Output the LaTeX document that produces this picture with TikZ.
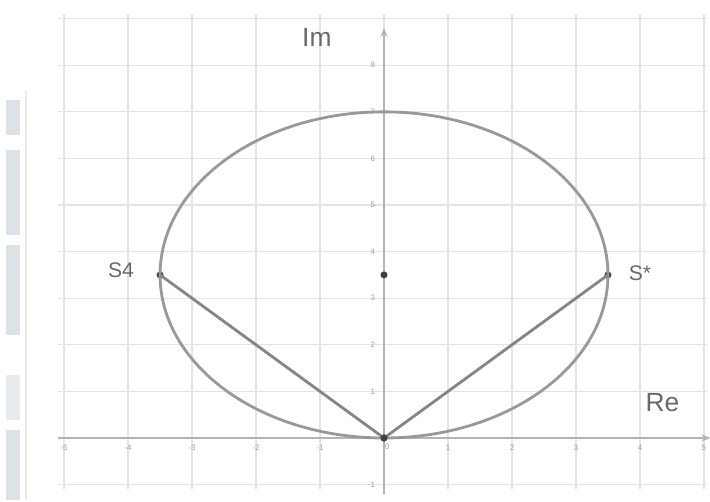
\documentclass[tikz,border=0pt]{standalone}
\usepackage{fontspec}
\setmainfont{Liberation Sans}
\usetikzlibrary{arrows.meta}
\definecolor{gridc}{HTML}{E4E4E4}
\definecolor{axisc}{HTML}{B4B4B4}
\definecolor{curvec}{HTML}{999999}
\definecolor{chordc}{HTML}{858585}
\definecolor{labc}{HTML}{686868}
\definecolor{tickc}{HTML}{A0A0A0}
\definecolor{sidec}{HTML}{DDE2E8}
\begin{document}
\begin{tikzpicture}[x=0.02cm,y=-0.02cm,
  gridline/.style={draw=gridc,line width=0.7pt},
  axisline/.style={draw=axisc,line width=1pt,-{Stealth[length=5pt,width=4pt]}},
  curve/.style={draw=curvec,line width=1.6pt},
  chord/.style={draw=chordc,line width=1.6pt},
  dotpt/.style={circle,fill=black!75,inner sep=0pt,minimum size=4pt},
  biglab/.style={text=labc,font=\fontsize{15}{16}\selectfont,inner sep=1pt},
  ptlab/.style={text=labc,font=\fontsize{12}{13}\selectfont,inner sep=1pt},
  ticklab/.style={text=tickc,font=\fontsize{4.5}{5}\selectfont,inner sep=0.5pt},
  sidebar/.style={fill=sidec,draw=none}]
\useasboundingbox (0,0) rectangle (710,502);
\fill[white] (0,0) rectangle (710,502);
% left cropped sidebar remnants
\fill[sidebar] (6,100) rectangle (20,135);
\fill[sidebar] (6,150) rectangle (20,235);
\fill[sidebar] (6,245) rectangle (20,335);
\fill[sidebar,fill=sidec!70] (6,375) rectangle (20,420);
\fill[sidebar] (6,430) rectangle (20,500);
\draw[black!8,line width=0.8pt] (26,90) -- (26,500);
\begin{scope}[shift={(384,438)},x=1.28cm,y=0.932cm]
  % grid
  \foreach \u in {-5,...,5} {\draw[gridline] (\u,-1.1) -- (\u,9.1);}
  \foreach \v in {-1,...,9} {\draw[gridline] (-5.1,\v) -- (5.05,\v);}
  % axes
  \coordinate (xs) at (-5.1,0);
  \coordinate (xe) at (5.1,0);
  \coordinate (ys) at (0,-1.2);
  \coordinate (ye) at (0,8.8);
  \draw[axisline] (xs) -- (xe);
  \draw[axisline] (ys) -- (ye);
  % tick labels
  \foreach \u in {-5,-4,-3,-2,-1,1,2,3,4,5} {\node[ticklab,below] (tx\u) at (\u,-0.12) {\u};}
  \foreach \v in {-1,1,2,3,4,5,6,7,8} {\node[ticklab,left] (ty\v) at (-0.12,\v) {\v};}
  \node[ticklab,below right] (t0) at (0,-0.1) {0};
  % points
  \coordinate (C0) at (0,3.5);
  \node[dotpt] (O) at (0,0) {};
  \node[dotpt] (C) at (0,3.5) {};
  \node[dotpt] (A) at (-3.5,3.5) {};
  \node[dotpt] (B) at (3.5,3.5) {};
  % circle (ellipse on screen)
  \draw[curve] (C0) ellipse [x radius=4.48cm, y radius=3.262cm];
  % chords
  \draw[chord] (A.center) -- (O.center) -- (B.center);
  \node[dotpt] at (O) {};
  % labels
  \node[ptlab] (lA) at (-4.11,3.6) {S4};
  \node[ptlab] (lB) at (4.0,3.53) {S*};
  \node[biglab] (lIm) at (-1.05,8.6) {Im};
  \node[biglab] (lRe) at (4.35,0.77) {Re};
\end{scope}
\end{tikzpicture}
\end{document}
